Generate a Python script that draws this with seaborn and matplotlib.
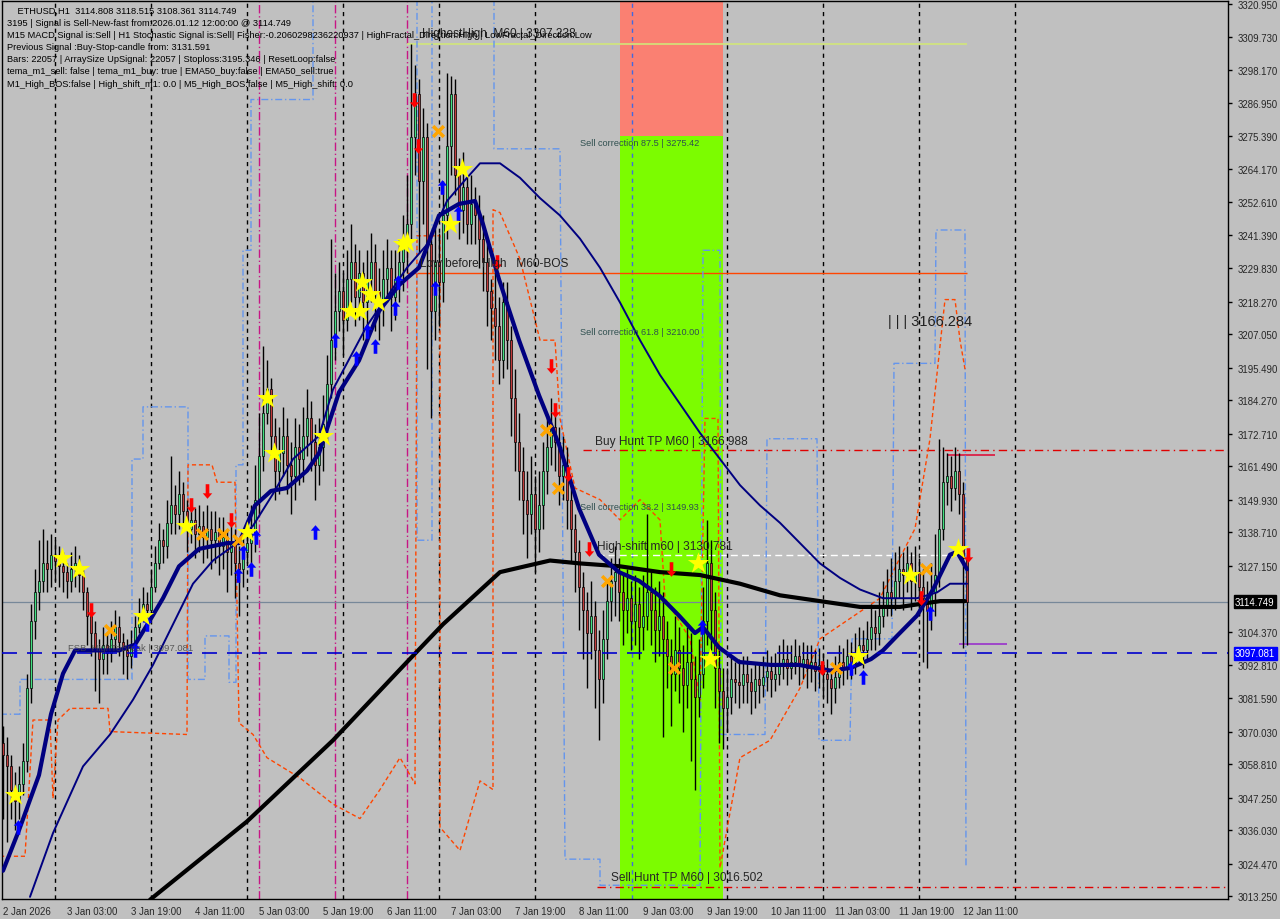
import matplotlib
matplotlib.use("Agg")
import matplotlib.pyplot as plt
from matplotlib.path import Path
import seaborn as sns
import numpy as np

# ---- candles (H1, one value per bar) ----
first_open = 3066.0
closes = [3062,
    3058, 3050, 3046, 3052, 3060, 3085, 3108, 3118, 3122, 3128,
    3126, 3131, 3129, 3127, 3125, 3122, 3126, 3128, 3124, 3118,
    3110, 3104, 3098, 3095, 3100, 3097, 3102, 3106, 3101, 3098,
    3096, 3100, 3106, 3110, 3114, 3112, 3120, 3128, 3136, 3134,
    3142, 3148, 3145, 3152, 3146, 3140, 3143, 3138, 3141, 3137,
    3140, 3136, 3139, 3134, 3137, 3132, 3135, 3128, 3126, 3132,
    3135,
    3138, 3150, 3165, 3180, 3188, 3172, 3160, 3166, 3172, 3162,
    3158, 3168, 3164, 3172, 3178, 3170, 3162, 3168, 3176, 3190,
    3205, 3215, 3222, 3212, 3226, 3232, 3220, 3228, 3218, 3226,
    3232, 3222, 3218, 3226, 3230, 3220, 3226, 3232, 3238, 3245,
    3275, 3290, 3260, 3275, 3238, 3215, 3232, 3225, 3248, 3272,
    3290, 3262, 3250, 3258, 3245, 3252, 3248, 3240, 3232, 3222,
    3216,
    3210, 3198, 3218, 3205, 3185, 3170, 3160, 3150, 3145, 3152,
    3140, 3148, 3160, 3168, 3175, 3170, 3158, 3162, 3150, 3140,
    3132, 3120, 3112, 3104, 3110, 3098, 3088, 3102, 3115, 3122,
    3125, 3118, 3112, 3116, 3108, 3114, 3106, 3110, 3118, 3112,
    3105, 3110, 3102, 3096, 3090, 3098, 3092, 3086, 3094, 3088,
    3082, 3090, 3108, 3128, 3112, 3092, 3084, 3078, 3082, 3088,
    3087,
    3086, 3090, 3087, 3084, 3088, 3086, 3089, 3091, 3088, 3090,
    3093, 3095, 3092, 3094, 3096, 3093, 3095, 3092, 3094, 3091,
    3093, 3090, 3088, 3085, 3089, 3094, 3092, 3096, 3094, 3097,
    3100, 3098, 3102, 3106, 3104, 3110, 3113, 3118, 3116, 3122,
    3126, 3124, 3128, 3122, 3125, 3120, 3116, 3112, 3118, 3124,
    3140, 3156, 3158, 3154, 3160, 3152, 3130, 3114.749]

highs = [3072,
    3068, 3062, 3056, 3058, 3066, 3090, 3114, 3126, 3136, 3140,
    3136, 3138, 3136, 3134, 3132, 3128, 3132, 3134, 3131, 3126,
    3120, 3114, 3108, 3102, 3106, 3104, 3108, 3112, 3110, 3104,
    3102, 3105, 3110, 3116, 3120, 3118, 3126, 3134, 3142, 3140,
    3150, 3165, 3155, 3160, 3156, 3150, 3150, 3147, 3148, 3146,
    3148, 3146, 3146, 3144, 3144, 3140, 3142, 3140, 3134, 3140,
    3142,
    3148, 3162, 3180, 3203, 3198, 3192, 3178, 3175, 3182, 3178,
    3170, 3178, 3176, 3182, 3188, 3184, 3176, 3178, 3186, 3200,
    3240, 3228, 3232, 3228, 3236, 3245, 3238, 3236, 3232, 3236,
    3242, 3238, 3230, 3236, 3240, 3236, 3236, 3240, 3248, 3262,
    3307, 3300, 3295, 3285, 3280, 3240, 3245, 3242, 3260, 3297,
    3296, 3295, 3268, 3270, 3262, 3262, 3258, 3255, 3248, 3238,
    3226,
    3230, 3220, 3225, 3225, 3210, 3195, 3180, 3168, 3160, 3165,
    3158, 3160, 3170, 3178, 3185, 3182, 3175, 3172, 3168, 3155,
    3145, 3136, 3125, 3118, 3122, 3115, 3105, 3112, 3122, 3130,
    3134, 3130, 3124, 3126, 3122, 3124, 3120, 3124, 3145, 3125,
    3120, 3122, 3118, 3108, 3102, 3110, 3106, 3100, 3106, 3104,
    3096, 3102, 3120, 3143, 3136, 3118, 3098, 3092, 3092, 3096,
    3094,
    3095, 3096, 3096, 3092, 3094, 3094, 3096, 3098, 3096, 3097,
    3100, 3102, 3100, 3100, 3102, 3100, 3101, 3100, 3100, 3098,
    3099, 3097, 3095, 3092, 3096, 3100, 3099, 3102, 3101, 3104,
    3106, 3105, 3108, 3114, 3112, 3118, 3122, 3126, 3130, 3132,
    3134, 3132, 3134, 3132, 3134, 3130, 3126, 3122, 3128, 3138,
    3171, 3168, 3166, 3165, 3168, 3166, 3156, 3131]

lows = [3040,
    3032, 3040, 3036, 3040, 3048, 3056, 3080, 3102, 3112, 3118,
    3118, 3120, 3122, 3120, 3118, 3116, 3118, 3120, 3118, 3112,
    3100, 3096, 3084, 3080, 3090, 3090, 3094, 3098, 3096, 3090,
    3088, 3092, 3098, 3104, 3108, 3106, 3110, 3118, 3126, 3128,
    3130, 3138, 3138, 3140, 3140, 3132, 3135, 3130, 3132, 3128,
    3130, 3126, 3128, 3124, 3126, 3118, 3124, 3116, 3110, 3120,
    3128,
    3128, 3132, 3145, 3160, 3176, 3165, 3150, 3152, 3158, 3152,
    3145, 3150, 3155, 3156, 3165, 3160, 3150, 3155, 3160, 3170,
    3185, 3198, 3208, 3200, 3208, 3218, 3210, 3212, 3205, 3210,
    3218, 3208, 3205, 3210, 3218, 3208, 3212, 3218, 3222, 3228,
    3240, 3262, 3235, 3245, 3195, 3178, 3205, 3210, 3218, 3240,
    3262, 3255, 3240, 3242, 3238, 3238, 3238, 3230, 3222, 3210,
    3205,
    3198, 3190, 3192, 3195, 3172, 3160, 3150, 3138, 3130, 3138,
    3125, 3132, 3140, 3152, 3162, 3160, 3148, 3150, 3140, 3128,
    3118, 3105, 3095, 3085, 3095, 3078, 3067, 3080, 3095, 3108,
    3110, 3108, 3100, 3104, 3098, 3100, 3095, 3098, 3105, 3100,
    3094, 3096, 3068, 3085, 3072, 3084, 3080, 3070, 3078, 3060,
    3050, 3075, 3085, 3100, 3098, 3078, 3066, 3064, 3070, 3076,
    3080,
    3078, 3080, 3080, 3076, 3078, 3080, 3082, 3084, 3082, 3084,
    3086, 3088, 3086, 3088, 3090, 3086, 3088, 3085, 3087, 3084,
    3085, 3082, 3080, 3076, 3080, 3085, 3086, 3088, 3088, 3090,
    3093, 3092, 3095, 3098, 3098, 3100, 3106, 3110, 3110, 3112,
    3116, 3112, 3118, 3112, 3115, 3110, 3094, 3092, 3105, 3110,
    3120, 3136, 3148, 3146, 3150, 3145, 3099, 3100]

assert len(closes) == len(highs) == len(lows), (len(closes), len(highs), len(lows))

# ---- moving averages, read at points (bar index, price) ----
ema_fast_x = [0, 4, 9, 12, 15, 18, 24, 29, 33, 37, 40, 44, 49, 56, 59, 63, 67, 71, 76, 79, 84,
              89, 94, 99, 104, 109, 114, 118, 120, 124, 129, 134, 139, 144, 149, 154, 159, 164,
              169, 173, 175, 179, 184, 192, 199, 207, 212, 217, 220, 223.5, 228.5, 232.5, 236.75,
              238.5, 241]
ema_fast_y = [3022, 3036, 3055, 3076, 3090, 3098, 3098, 3098, 3100, 3109, 3116, 3127, 3133, 3135,
              3135, 3148, 3153, 3154, 3160, 3166, 3187, 3198, 3215, 3224, 3230, 3248, 3252, 3253,
              3245, 3226, 3205, 3186, 3169, 3147, 3131, 3125, 3122, 3117, 3110, 3104, 3106, 3099,
              3094, 3093, 3093, 3091, 3092, 3095, 3098, 3103, 3110, 3119, 3131, 3132, 3126]

ema_slow_x = [6.75, 12.5, 20, 26.75, 32.5, 37.5, 42.5, 47.5, 52.5, 57.5, 62.5, 67.5, 72.5, 79,
              82.5, 91, 96, 101, 106, 111, 116, 119.25, 124.25, 129.25, 134.25, 139.25, 144.25,
              149.25, 154.25, 159.25, 164.25, 169.25, 174.25, 179.25, 184.25, 189.25, 194.25,
              199.25, 204.25, 209.25, 214.25, 220, 228.5, 233.5, 236.75, 241]
ema_slow_y = [3013, 3035, 3058, 3069, 3081, 3093, 3107, 3121, 3129, 3134, 3141, 3152, 3164, 3172,
              3188, 3210, 3220, 3230, 3238, 3253, 3261, 3266, 3266, 3261, 3254, 3248, 3240, 3230,
              3218, 3205, 3193, 3183, 3173, 3164, 3155, 3148, 3142, 3135, 3128, 3123, 3119, 3116,
              3116, 3118, 3121, 3121]

sma_x = [36.75, 61, 82.5, 101, 110, 124.25, 136.75, 144.25, 154.25, 164.25, 174.25, 184.25,
         194.25, 204.25, 214.25, 224.25, 234.25, 240.5]
sma_y = [3012, 3039, 3067, 3094, 3107, 3125, 3129, 3128, 3127, 3125, 3124, 3121, 3117, 3115,
         3113, 3113, 3115, 3115]

# ---- step channels (bar index, price) ----
band_x = [-0.75, 4.25, 4.25, 32.25, 32.25, 35, 35, 46.25, 46.25, 50.5, 50.5, 56.5, 56.5, 58.25,
          58.25, 60, 60, 62, 62, 77.5, 77.5, 103.5, 103.5, 107.25, 107.25, 122.75, 122.75, 139.25,
          140.5, 149.25, 149.25, 174.25, 175, 179.25, 179.5, 190.5, 191, 203.5, 204, 211.75,
          212.25, 222.25, 222.75, 233, 233.25, 240.5, 240.75]
band_y = [3076, 3076, 3088, 3088, 3164, 3164, 3182, 3182, 3088, 3088, 3103, 3103, 3087, 3087,
          3162, 3162, 3236, 3236, 3288, 3288, 3330, 3330, 3136, 3136, 3330, 3330, 3271, 3271,
          3026, 3026, 3017, 3017, 3236, 3236, 3069, 3069, 3171, 3171, 3067, 3067, 3102, 3102,
          3197, 3197, 3243, 3243, 3023]

orange_x = [-0.75, 5.5, 7.5, 11.75, 12.5, 13.75, 16.75, 26.25, 26.75, 46, 46.25, 52.25, 53.5, 58,
            59, 62.5, 66, 74.25, 82.5, 89.25, 94.25, 99.25, 103, 103.5, 109.25, 109.25, 114.25,
            119.25, 122.5, 122.5, 124.25, 129.25, 134.25, 138, 139.25, 143, 149.25, 154.25,
            159.25, 164.25, 165.5, 171.75, 174.25, 175.5, 178.75, 179.25, 184.25, 191.75, 199.25,
            204.25, 211.75, 219.25, 224.25, 228, 231.75, 235.5, 238, 239.25, 240.5]
orange_y = [3027, 3027, 3074, 3074, 3047, 3074, 3078, 3078, 3070, 3069, 3162, 3162, 3156, 3156,
            3073, 3069, 3061, 3054, 3045, 3040, 3050, 3061, 3052, 3241, 3241, 3037, 3029, 3053,
            3050, 3250, 3249, 3233, 3205, 3205, 3178, 3154, 3150, 3143, 3150, 3143, 3116, 3102,
            3081, 3178, 3178, 3023, 3061, 3067, 3085, 3102, 3109, 3116, 3130, 3140, 3171, 3219,
            3219, 3205, 3195]

# ---- signal markers (bar index, price) ----
star_x = [3, 14.75, 19, 35, 45.75, 61, 66, 67.75, 80, 86.75, 89.25, 89.75, 91.75, 93.75, 100,
          101, 111.75, 114.75, 173.75, 176.75, 213.75, 226.75, 238.75]
star_y = [3048, 3130, 3126, 3110, 3141, 3139, 3185, 3166, 3172, 3215, 3215, 3225, 3221, 3218,
          3238, 3239, 3245, 3264, 3128, 3095, 3096, 3124, 3133]
cross_x = [26.75, 49.75, 55, 58.75, 108.75, 135.75, 138.75, 151, 167.75, 208.25, 230.75]
cross_y = [3105, 3138, 3138, 3136, 3277, 3174, 3154, 3122, 3092, 3092, 3126]
down_x = [22, 47, 51, 57, 102.75, 103.75, 123.5, 137, 138, 141.25, 146.5, 167, 204.75, 229.5,
          241.25]
down_y = [3112, 3148, 3153, 3143, 3288, 3272, 3232, 3196, 3181, 3159, 3133, 3126, 3092, 3116, 3131]
up_x = [3.75, 33, 36, 58.75, 60, 62, 63.25, 78, 83, 88.25, 91, 93, 98, 98.75, 108, 109.75,
        113.75, 174.75, 212, 215, 231.75]
up_y = [3037, 3098, 3107, 3124, 3132, 3126, 3137, 3139, 3205, 3199, 3208, 3203, 3216, 3225,
        3223, 3258, 3249, 3106, 3092, 3089, 3111]

# ---- levels ----
bid = 3114.749
fsb = 3097.081
highest_high = 3307.238
low_before_high = 3228.2
buy_tp = 3166.988
high_shift = 3130.781
sell_tp = 3016.502
corr_levels = [(87.5, 3275.42), (61.8, 3210.00), (38.2, 3149.93)]
zone_bars = (154.25, 180)
day_lines = [13, 37, 61, 85, 109, 133, 181, 205, 229, 253]
magenta_lines = [64, 83, 101]

ytick_vals = [3320.950, 3309.730, 3298.170, 3286.950, 3275.390, 3264.170, 3252.610, 3241.390,
              3229.830, 3218.270, 3207.050, 3195.490, 3184.270, 3172.710, 3161.490, 3149.930,
              3138.710, 3127.150, 3104.370, 3092.810, 3081.590, 3070.030, 3058.810, 3047.250,
              3036.030, 3024.470, 3013.250]
xtick_labels = ["2 Jan 2026", "3 Jan 03:00", "3 Jan 19:00", "4 Jan 11:00", "5 Jan 03:00",
                "5 Jan 19:00", "6 Jan 11:00", "7 Jan 03:00", "7 Jan 19:00", "8 Jan 11:00",
                "9 Jan 03:00", "9 Jan 19:00", "10 Jan 11:00", "11 Jan 03:00", "11 Jan 19:00",
                "12 Jan 11:00"]

info_lines = [
    "    ETHUSD,H1  3114.808 3118.515 3108.361 3114.749",
    "3195 | Signal is Sell-New-fast from:2026.01.12 12:00:00 @ 3114.749",
    "M15 MACD Signal is:Sell | H1 Stochastic Signal is:Sell| Fisher:-0.2060298236220937 | HighFractal_Direction:High | LowFractal_Direction:Low",
    "Previous Signal :Buy-Stop-candle from: 3131.591",
    "Bars: 22057 | ArraySize UpSignal: 22057 | Stoploss:3195.346 | ResetLoop:false",
    "tema_m1_sell: false | tema_m1_buy: true | EMA50_buy:false | EMA50_sell:true",
    "M1_High_BOS:false | High_shift_m1: 0.0 | M5_High_BOS:false | M5_High_shift: 0.0",
]

# ---------------------------------------------------------------
sns.set_style("white", rc={"axes.facecolor": "#C0C0C0", "figure.facecolor": "#C0C0C0"})
plt.rcParams['font.family'] = ['Liberation Sans', 'DejaVu Sans']

fig = plt.figure(figsize=(12.8, 9.2), dpi=100)
ax = fig.add_axes([2 / 1280, 20 / 920, 1226 / 1280, 898 / 920])
ax.set_xlim(-0.25, 306.25)
ax.set_ylim(3012.26, 3321.98)

# signal zone
ax.fill_between(zone_bars, corr_levels[0][1], 3330, color="#FA8072", lw=0, zorder=0)
ax.fill_between(zone_bars, 3000, corr_levels[0][1], color="#7CFC00", lw=0, zorder=0)

for d in day_lines:
    ax.axvline(d, color="black", lw=1, ls=(0, (3, 3)), zorder=1)
ax.axvline(157.25, color="#4169E1", lw=1, ls=(0, (3, 3)), zorder=1)
for d in magenta_lines:
    ax.axvline(d, color="#C71585", lw=1, ls=(0, (6, 2, 1, 2)), zorder=1)

# horizontal levels
ax.axhline(bid, color="#778899", lw=0.9, zorder=1)
ax.axhline(fsb, color="#0000CD", lw=1.2, ls=(0, (9, 6)), zorder=6)
ax.hlines(highest_high, 101, 241, color="#D2E67A", lw=1.2, zorder=1)
ax.hlines(low_before_high, 101, 241, color="#FF4500", lw=1, zorder=1)
ax.hlines(buy_tp, 145, 307, color="#E00000", lw=1, ls=(0, (6, 3, 1, 3)), zorder=1)
ax.hlines(high_shift, 148.5, 240.5, color="white", lw=1, ls=(0, (5, 3)), zorder=1)
ax.hlines(sell_tp, 148.5, 307, color="#E00000", lw=1, ls=(0, (6, 3, 1, 3)), zorder=1)
ax.hlines(3165.4, 236, 248, color="#DC143C", lw=1.2, zorder=1)
ax.hlines(3100.2, 239, 251, color="#9932CC", lw=1.2, zorder=1)

# channels
ax.plot(band_x, band_y, color="#6495ED", lw=1, ls=(0, (5, 2, 1, 2)), zorder=2)
ax.plot(orange_x, orange_y, color="#FF4500", lw=1, ls=(0, (3, 2)), zorder=2)

# candles
idx = np.arange(len(closes))
opens = np.array([first_open] + closes[:-1])
cl = np.array(closes)
ax.vlines(idx, lows, highs, color="black", lw=1, zorder=3)
bull = cl >= opens
body_lo = np.minimum(opens, cl)
body_h = np.maximum(np.abs(cl - opens), 0.3)
ax.bar(idx[bull], body_h[bull], bottom=body_lo[bull], width=0.7, color="#40E080",
       edgecolor="black", lw=0.5, zorder=4)
ax.bar(idx[~bull], body_h[~bull], bottom=body_lo[~bull], width=0.7, color="#C23B3B",
       edgecolor="black", lw=0.5, zorder=4)

# moving averages
sns.lineplot(x=sma_x, y=sma_y, ax=ax, color="black", lw=3, sort=False, estimator=None, zorder=5)
sns.lineplot(x=ema_slow_x, y=ema_slow_y, ax=ax, color="#000080", lw=1.4, sort=False,
             estimator=None, zorder=5)
sns.lineplot(x=ema_fast_x, y=ema_fast_y, ax=ax, color="#000080", lw=3, sort=False,
             estimator=None, zorder=5)

# markers
up_arrow = Path([(0, 1), (0.65, 0.25), (0.25, 0.25), (0.25, -1), (-0.25, -1), (-0.25, 0.25),
                 (-0.65, 0.25), (0, 1)], closed=True)
down_arrow = Path([(0, -1), (0.65, -0.25), (0.25, -0.25), (0.25, 1), (-0.25, 1), (-0.25, -0.25),
                   (-0.65, -0.25), (0, -1)], closed=True)
ax.scatter(up_x, up_y, marker=up_arrow, s=110, color="#0000FF", lw=0, zorder=7)
ax.scatter(down_x, down_y, marker=down_arrow, s=110, color="#FF0000", lw=0, zorder=7)
ax.scatter(cross_x, cross_y, marker="x", s=60, color="#FFA500", lw=2.5, zorder=7)
ax.scatter(star_x, star_y, marker="*", s=260, color="#FFFF00", lw=0, zorder=8)

# level labels
for pct, lvl in corr_levels:
    ax.text(144.25, lvl - 0.6, f"Sell correction {pct} | {lvl:.2f}", color="#2F4F4F",
            fontsize=6.6, va="top", ha="left", zorder=9)
ax.text(148, buy_tp + 1.2, f"Buy Hunt TP M60 | {buy_tp:.3f}", fontsize=8.6, va="bottom", zorder=9)
ax.text(148.5, high_shift + 1.2, f"High-shift m60 | {high_shift:.3f}", fontsize=8.6,
        va="bottom", zorder=9)
ax.text(152, sell_tp + 1.2, f"Sell Hunt TP M60 | {sell_tp:.3f}", fontsize=8.6, va="bottom",
        zorder=9)
ax.text(104.75, highest_high + 1.5, f"HighestHigh  M60 | {highest_high:.3f}", fontsize=8.6,
        va="bottom", color="#202020", zorder=9)
ax.text(104.25, low_before_high + 1.2, "Low before High   M60-BOS", fontsize=8.6,
        va="bottom", color="#202020", zorder=9)
ax.text(16.25, fsb + 0.4, f"FSB_HighToBreak | {fsb:.3f}", fontsize=6.8, va="bottom",
        color="#404040", alpha=0.8, zorder=9)
ax.text(221.25, 3211.6, "| | | 3166.284", fontsize=10.5, va="center", color="#202020", zorder=9)

for k, line in enumerate(info_lines):
    fig.text(7 / 1280, 1 - (11 + 12.2 * k) / 920, line, fontsize=6.7, va="center", ha="left",
             color="black")

# axes
for s in ax.spines.values():
    s.set_color("black")
    s.set_linewidth(1)
ax.yaxis.tick_right()
ax.set_yticks(ytick_vals)
ax.set_yticklabels([f"{v:.3f}" for v in ytick_vals], fontsize=6.9)
ax.set_xticks(np.arange(0, 16 * len(xtick_labels), 16))
ax.set_xticklabels(xtick_labels, fontsize=6.9, ha="left")
ax.tick_params(axis="both", length=3, width=1, color="black", pad=2, direction="out")
ax.tick_params(axis="y", pad=4)

ax.annotate(f"{bid:.3f}", xy=(1, bid), xycoords=("axes fraction", "data"), xytext=(5, 0),
            textcoords="offset points", va="center", ha="left", fontsize=6.9, color="white",
            bbox=dict(boxstyle="square,pad=0.15", fc="black", ec="black"), annotation_clip=False)
ax.annotate(f"{fsb:.3f}", xy=(1, fsb), xycoords=("axes fraction", "data"), xytext=(5, 0),
            textcoords="offset points", va="center", ha="left", fontsize=6.9, color="white",
            bbox=dict(boxstyle="square,pad=0.15", fc="#0000FF", ec="#0000FF"), annotation_clip=False)

fig.savefig("out.png", dpi=100, facecolor=fig.get_facecolor())
